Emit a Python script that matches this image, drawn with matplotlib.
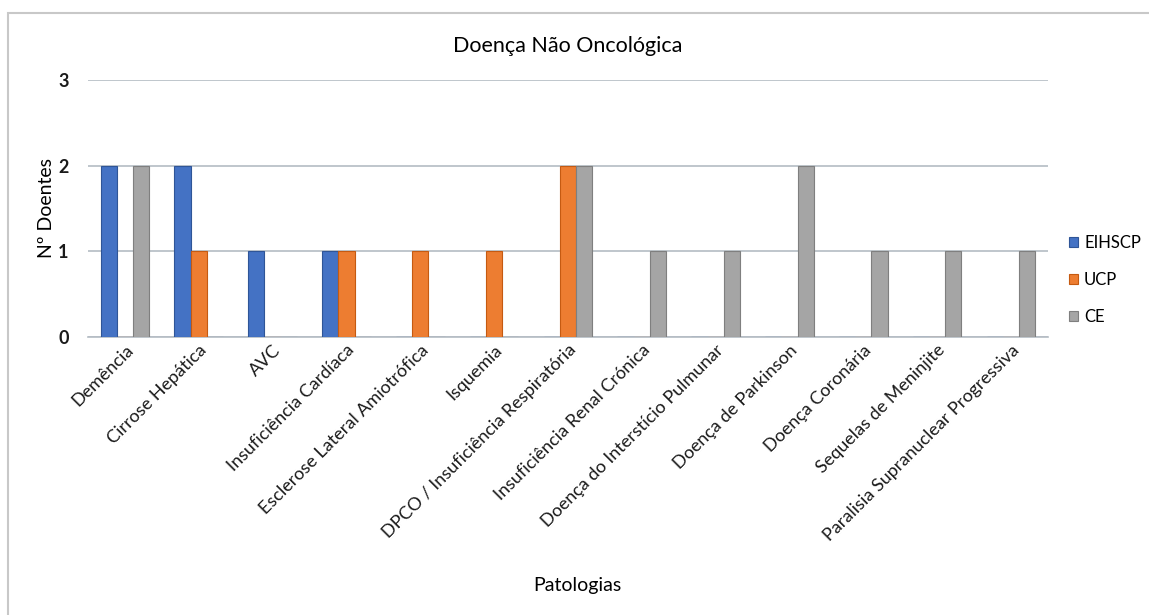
import matplotlib.pyplot as plt
import matplotlib.patches as mpatches
import numpy as np

# dados
patologias = ['Demência', 'Cirrose Hepática', 'AVC', 'Insuficiência Cardíaca',
              'Esclerose Lateral Amiotrófica', 'Isquemia',
              'DPCO / Insuficiência Respiratória', 'Insuficiência Renal Crónica',
              'Doença do Interstício Pulmunar', 'Doença de Parkinson',
              'Doença Coronária', 'Sequelas de Meninjite',
              'Paralisia Supranuclear Progressiva']
eihscp = [2, 2, 1, 1, 0, 0, 0, 0, 0, 0, 0, 0, 0]
ucp = [0, 1, 0, 1, 1, 1, 2, 0, 0, 0, 0, 0, 0]
ce = [2, 0, 0, 0, 0, 0, 2, 1, 1, 2, 1, 1, 1]
series = ['EIHSCP', 'UCP', 'CE']

plt.rcParams['font.family'] = ['Lato', 'DejaVu Sans']

fig = plt.figure(figsize=(11.49, 6.15), dpi=100)
ax = fig.add_axes([0.0766, 0.452, 0.8354, 0.418])

# moldura do grafico
moldura = mpatches.Rectangle((8 / 1149, -0.1), 1.2, 1 - 13 / 615 + 0.1,
                             transform=fig.transFigure, fill=False,
                             edgecolor='#c8c8c8', linewidth=1.5)
fig.patches.append(moldura)

x = np.arange(len(patologias))
w = 0.22
cores = ['#4472C4', '#ED7D31', '#A5A5A5']
bordas = ['#2F5597', '#C55A11', '#7F7F7F']
for i, (vals, nome) in enumerate(zip([eihscp, ucp, ce], series)):
    ax.bar(x + (i - 1) * w, vals, w, color=cores[i], edgecolor=bordas[i],
           linewidth=0.8, label=nome, zorder=3)

ax.set_xlim(-0.5, len(patologias) - 0.5)
ax.set_ylim(0, 3)
ax.set_yticks([0, 1, 2, 3])
ax.grid(axis='y', color='#b4bcc4', linewidth=1.2, zorder=0)
for s in ['top', 'right', 'left']:
    ax.spines[s].set_visible(False)
ax.spines['bottom'].set_color('#b4bcc4')
ax.spines['bottom'].set_linewidth(1.2)
ax.tick_params(axis='both', length=0, labelsize=13, colors='#1a1a1a')
ax.tick_params(axis='y', pad=14)
for t in ax.get_yticklabels():
    t.set_fontweight('bold')
ax.set_xticks(x)
ax.set_xticklabels(patologias, rotation=45, ha='right', rotation_mode='anchor',
                   fontsize=13)

ax.set_ylabel('Nº Doentes', fontsize=14, labelpad=2)
ax.set_title('Doença Não Oncológica', fontsize=15.5, pad=20)
fig.text(577 / 1149, 1 - 585 / 615, 'Patologias', ha='center', va='center', fontsize=14)

ax.legend(loc='center left', bbox_to_anchor=(1.022, 0.222), frameon=False,
          borderaxespad=0, borderpad=0,
          fontsize=12, handlelength=0.55, handleheight=0.55, handletextpad=0.35,
          labelspacing=1.25)

plt.savefig('out.png', dpi=100)
